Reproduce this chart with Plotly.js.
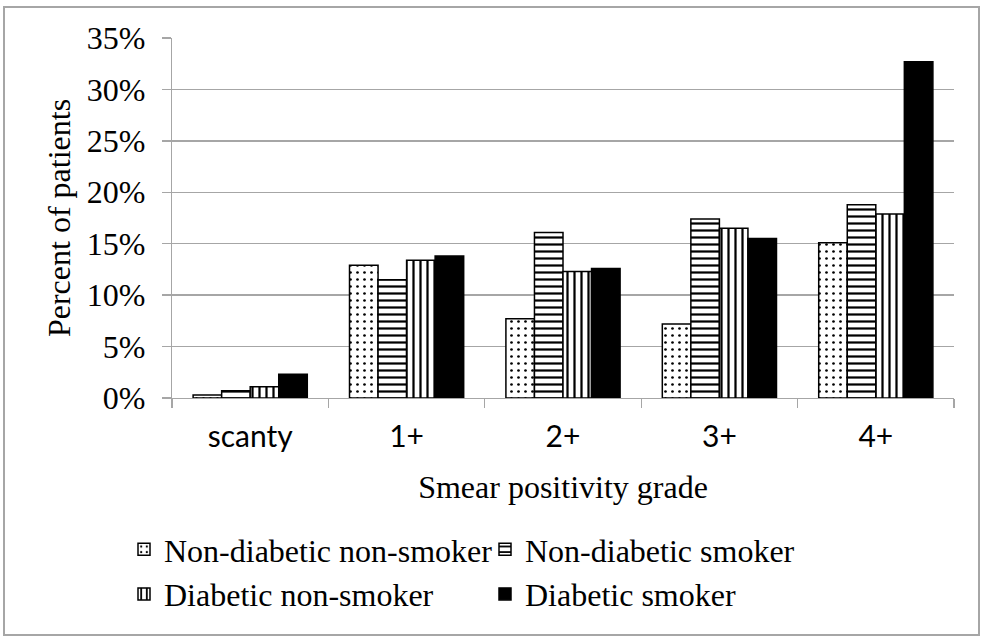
<!DOCTYPE html>
<html>
<head>
<meta charset="utf-8">
<script src="https://cdn.plot.ly/plotly-3.0.1.min.js"></script>
<style>
  html, body { margin: 0; padding: 0; background: #fff; }
  #chart { width: 982px; height: 639px; }
</style>
</head>
<body>
<div id="chart"></div>
<script>
const categories = ["scanty", "1+", "2+", "3+", "4+"];
const nonDiabeticNonSmoker = [0.003, 0.129, 0.077, 0.072, 0.151];
const nonDiabeticSmoker    = [0.007, 0.115, 0.161, 0.174, 0.188];
const diabeticNonSmoker    = [0.011, 0.134, 0.123, 0.165, 0.179];
const diabeticSmoker       = [0.023, 0.138, 0.126, 0.155, 0.327];
const seriesNames = ["Non-diabetic non-smoker", "Non-diabetic smoker", "Diabetic non-smoker", "Diabetic smoker"];
const yTickValues = [0, 0.05, 0.10, 0.15, 0.20, 0.25, 0.30, 0.35];

const patterns = [
  {shape: ".", fgcolor: "#000", bgcolor: "#fff", size: 7, solidity: 0.12, fillmode: "replace"},
  {shape: "-", fgcolor: "#000", bgcolor: "#fff", size: 7, solidity: 0.32, fillmode: "replace"},
  {shape: "|", fgcolor: "#000", bgcolor: "#fff", size: 7, solidity: 0.32, fillmode: "replace"},
  {shape: "", fgcolor: "#000", bgcolor: "#000", size: 7, solidity: 1}
];
const allValues = [nonDiabeticNonSmoker, nonDiabeticSmoker, diabeticNonSmoker, diabeticSmoker];

const traces = allValues.map((vals, i) => ({
  type: "bar",
  name: seriesNames[i],
  x: categories,
  y: vals,
  marker: {
    color: i === 3 ? "#000" : "#fff",
    line: {color: "#000", width: 1.5},
    pattern: patterns[i]
  },
  hoverinfo: "x+y+name"
}));

const grid = "#a6a6a6";
const serif = "'Liberation Serif', 'Times New Roman', serif";
const layout = {
  width: 982,
  height: 639,
  margin: {l: 172, r: 28, t: 38, b: 241, pad: 0},
  paper_bgcolor: "#fff",
  plot_bgcolor: "#fff",
  barmode: "group",
  bargap: 0.27,
  bargroupgap: 0,
  showlegend: true,
  xaxis: {
    type: "category",
    tickson: "boundaries",
    ticks: "outside",
    ticklen: 9,
    tickcolor: grid,
    tickwidth: 1.3,
    showline: true,
    linecolor: grid,
    linewidth: 1.3,
    showgrid: false,
    tickfont: {family: "Lato, 'Open Sans', sans-serif", size: 30, color: "#000"},
    ticklabelstandoff: 12,
    title: {text: "Smear positivity grade", font: {family: serif, size: 32, color: "#000"}, standoff: 23}
  },
  yaxis: {
    range: [0, 0.35],
    tickvals: yTickValues,
    tickformat: ".0%",
    ticks: "outside",
    ticklen: 9,
    tickcolor: grid,
    tickwidth: 1.3,
    showline: true,
    linecolor: grid,
    linewidth: 1.3,
    showgrid: true,
    gridcolor: grid,
    gridwidth: 1.3,
    zeroline: false,
    tickfont: {family: serif, size: 32, color: "#000"},
    ticklabelstandoff: 10,
    title: {text: "Percent of patients", font: {family: serif, size: 32, color: "#000"}, standoff: 6}
  },
  legend: {
    orientation: "h",
    xref: "paper",
    yref: "paper",
    x: (124 - 172) / 782,
    y: (398 - 522) / 360,
    xanchor: "left",
    yanchor: "top",
    entrywidth: 316,
    entrywidthmode: "pixels",
    itemwidth: 30,
    tracegroupgap: 0,
    font: {family: serif, size: 32, color: "#000"},
    bgcolor: "rgba(0,0,0,0)"
  },
  shapes: [{
    type: "rect",
    xref: "paper",
    yref: "paper",
    x0: (4 - 172) / 782,
    x1: (979 - 172) / 782,
    y0: (398 - 635) / 360,
    y1: (398 - 7) / 360,
    line: {color: "#a6a6a6", width: 2},
    fillcolor: "rgba(0,0,0,0)",
    layer: "below"
  }]
};

Plotly.newPlot("chart", traces, layout, {displayModeBar: false, staticPlot: true});
</script>
</body>
</html>
